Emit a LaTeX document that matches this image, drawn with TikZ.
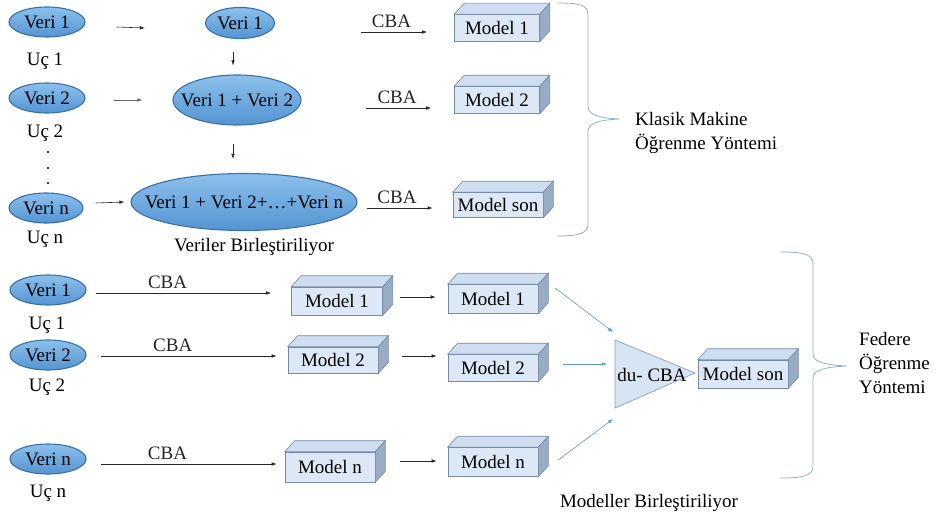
\documentclass[tikz,border=0pt]{standalone}
\usepackage{fontspec}
\setmainfont{Liberation Serif}
\newfontfamily\diagfont{Liberation Serif}
\usetikzlibrary{calc,arrows.meta,shapes.geometric}

\definecolor{ellfillA}{RGB}{140,192,236}
\definecolor{ellfillB}{RGB}{84,148,210}
\definecolor{elledge}{RGB}{58,112,168}
\definecolor{boxfront}{RGB}{220,232,246}
\definecolor{boxtop}{RGB}{206,222,240}
\definecolor{boxside}{RGB}{152,172,198}
\definecolor{boxedge}{RGB}{118,138,165}
\definecolor{trifill}{RGB}{214,228,244}
\definecolor{triedge}{RGB}{132,162,196}
\definecolor{bracecol}{RGB}{150,176,202}
\definecolor{bluearrow}{RGB}{90,150,210}

% ellipse labels are set in a zero-width box so the ellipse keeps its given size
\newcommand\etext[1]{\makebox[0pt]{#1}}

\tikzset{
  lbl/.style={font=\diagfont\fontsize{19}{23}\selectfont, inner sep=0pt},
  dataell/.style={ellipse, lbl, draw=elledge, line width=1.1pt,
    top color=ellfillA, bottom color=ellfillB},
  modelbox/.style={rectangle, lbl, draw=boxedge, line width=0.6pt,
    fill=boxfront, minimum width=#1, minimum height=28pt},
  modelbox/.default=90pt,
  arr/.style={-{Latex[length=5pt,width=3.5pt]}, line width=0.6pt, black!85},
  bluearr/.style={-{Latex[length=5pt,width=3.5pt]}, line width=0.6pt, bluearrow},
  cbalbl/.style={lbl, above, inner sep=4pt},
  brace/.style={draw=bracecol, line width=0.8pt},
  twoline/.style={lbl, anchor=west, align=left, font=\diagfont\fontsize{19}{24}\selectfont},
}

\newcommand\boxfaces[1]{%
  \filldraw[fill=boxtop, draw=boxedge, line width=0.6pt]
    (#1.north west) -- ++(10,-11) -- ($(#1.north east)+(10,-11)$)
    -- (#1.north east) -- cycle;
  \filldraw[fill=boxside, draw=boxedge, line width=0.6pt]
    (#1.north east) -- ++(10,-11) -- ($(#1.south east)+(10,-11)$)
    -- (#1.south east) -- cycle;
}

\begin{document}
\begin{tikzpicture}[x=1pt, y=-1pt]
\useasboundingbox (0,0) rectangle (936,527);

% ---------- classical learning: data gathered in one place ----------
\node[dataell, minimum width=76pt, minimum height=30pt] (lv1) at (47,22) {\etext{Veri 1}};
\node[lbl, anchor=base] (u1) at (45,66) {Uç 1};
\node[dataell, minimum width=76pt, minimum height=30pt] (lv2) at (47,98) {\etext{Veri 2}};
\node[lbl, anchor=base] (u2) at (45,137) {Uç 2};
\fill (48,152) circle (1.2);
\fill (48,168) circle (1.2);
\fill (48,183) circle (1.2);
\node[dataell, minimum width=74pt, minimum height=30pt] (lvn) at (46,208) {\etext{Veri n}};
\node[lbl, anchor=base] (un) at (45,243) {Uç n};

\node[dataell, minimum width=69pt, minimum height=31pt] (mv1) at (240,23) {\etext{Veri 1}};
\node[dataell, minimum width=128pt, minimum height=50pt] (mv12) at (237,100) {\etext{Veri 1 + Veri 2}};
\node[dataell, minimum width=226pt, minimum height=57pt] (mvall) at (244,202) {\etext{Veri 1 + Veri 2+…+Veri n}};
\node[lbl, anchor=base] (merge1) at (254,251) {Veriler Birleştiriliyor};

\draw[arr] ($(lv1.east)+(31,5)$) -- ($(mv1.west)+(-60,5)$);
\draw[arr, black!60] ($(lv2.east)+(28,2)$) -- ($(mv12.west)+(-30,0)$);
\draw[arr] ($(lvn.east)+(12,-5)$) -- ($(mvall.west)+(-6,0)$);
\draw[arr] ($(mv1.south)+(-7,13)$) -- ($(mv12.north)+(-4,-9)$);
\draw[arr] ($(mv12.south)+(-4,18)$) -- ($(mvall.north)+(-11,-14)$);

\node[modelbox=85pt, minimum height=27pt] (tm1) at (497,28) {Model 1};
\node[modelbox=85pt, minimum height=27pt] (tm2) at (497,100) {Model 2};
\node[modelbox=90pt, minimum height=25pt] (tms) at (498,205) {Model son};
\foreach \b in {tm1,tm2,tms} {\boxfaces{\b}}

\draw[arr] ($(mv1.east)+(86,9)$) -- node[cbalbl, pos=0.46] (cbat1) {CBA} ($(tm1.west)+(-27,4)$);
\draw[arr] ($(mv12.east)+(64,8)$) -- node[cbalbl, pos=0.48] (cbat2) {CBA} ($(tm2.west)+(-23,8)$);
\draw[arr] ($(mvall.east)+(9,6)$) -- node[cbalbl, pos=0.46] (cbat3) {CBA} ($(tms.west)+(-20,3)$);

\draw[brace] (557,3) .. controls (580,3) and (588,5) .. (588,15) -- (588,106)
  .. controls (588,115) and (598,118) .. (620,119)
  .. controls (598,120) and (588,123) .. (588,132) -- (588,224)
  .. controls (588,233) and (580,236) .. (557,236);
\node[twoline] (klasik) at (635,133) {Klasik Makine\\Öğrenme Yöntemi};

% ---------- federated learning: models merged ----------
\node[dataell, minimum width=76pt, minimum height=30pt] (fv1) at (48,290) {\etext{Veri 1}};
\node[lbl, anchor=base] (fu1) at (47,329) {Uç 1};
\node[dataell, minimum width=76pt, minimum height=30pt] (fv2) at (48,355) {\etext{Veri 2}};
\node[lbl, anchor=base] (fu2) at (47,391) {Uç 2};
\node[dataell, minimum width=76pt, minimum height=30pt] (fvn) at (48,459) {\etext{Veri n}};
\node[lbl, anchor=base] (fun) at (48,497) {Uç n};

\node[modelbox=91pt] (bm1) at (337,301) {Model 1};
\node[modelbox=90pt, minimum height=26pt] (bm2) at (333,360) {Model 2};
\node[modelbox=90pt, minimum height=30pt] (bmn) at (330,467) {Model n};
\node[modelbox=90pt, minimum height=29pt] (cm1) at (493,299) {Model 1};
\node[modelbox=90pt, minimum height=27pt] (cm2) at (493,368) {Model 2};
\node[modelbox=90pt, minimum height=29pt] (cmn) at (493,462) {Model n};
\node[modelbox=90pt] (fms) at (743,374) {Model son};
\foreach \b in {bm1,bm2,bmn,cm1,cm2,cmn,fms} {\boxfaces{\b}}

\draw[arr] ($(fv1.east)+(9,3)$) -- node[cbalbl, pos=0.41] (cbab1) {CBA} ($(bm1.west)+(-20,-8)$);
\draw[arr] ($(fv2.east)+(14,1)$) -- node[cbalbl, pos=0.41] (cbab2) {CBA} ($(bm2.west)+(-11,-4)$);
\draw[arr] ($(fvn.east)+(14,5)$) -- node[cbalbl, pos=0.38] (cbab3) {CBA} ($(bmn.west)+(-8,-3)$);

\draw[arr] ($(bm1.east)+(17,-4)$) -- ($(cm1.west)+(-12,-2)$);
\draw[arr] ($(bm2.east)+(24,-4)$) -- ($(cm2.west)+(-11,-12)$);
\draw[arr] ($(bmn.east)+(25,-6)$) -- ($(cmn.west)+(-11,-1)$);

% aggregation triangle
\coordinate (triTop) at (615,340);
\coordinate (triBot) at (615,408);
\coordinate (triTip) at (695,373);
\filldraw[fill=trifill, draw=triedge, line width=0.7pt] (triTop) -- (triTip) -- (triBot) -- cycle;
\node[lbl] (du) at (652,375) {du- CBA};

\draw[bluearr] ($(cm1.east)+(17,-11)$) -- ($(triTop)+(-2,-8)$);
\draw[bluearr] ($(cm2.east)+(25,-4)$) -- ($(triTop)+(-8,24)$);
\draw[bluearr] ($(cmn.east)+(20,-2)$) -- ($(triBot)+(-2,11)$);

\node[lbl, anchor=base] (merge2) at (649,507) {Modeller Birleştiriliyor};

\draw[brace] (780,252) .. controls (803,252) and (813,254) .. (813,264) -- (813,354)
  .. controls (813,362) and (825,365) .. (847,366)
  .. controls (825,367) and (813,370) .. (813,378) -- (813,466)
  .. controls (813,476) and (803,478) .. (780,478);
\node[twoline] (federe) at (859,363) {Federe\\Öğrenme\\Yöntemi};
\end{tikzpicture}
\end{document}
